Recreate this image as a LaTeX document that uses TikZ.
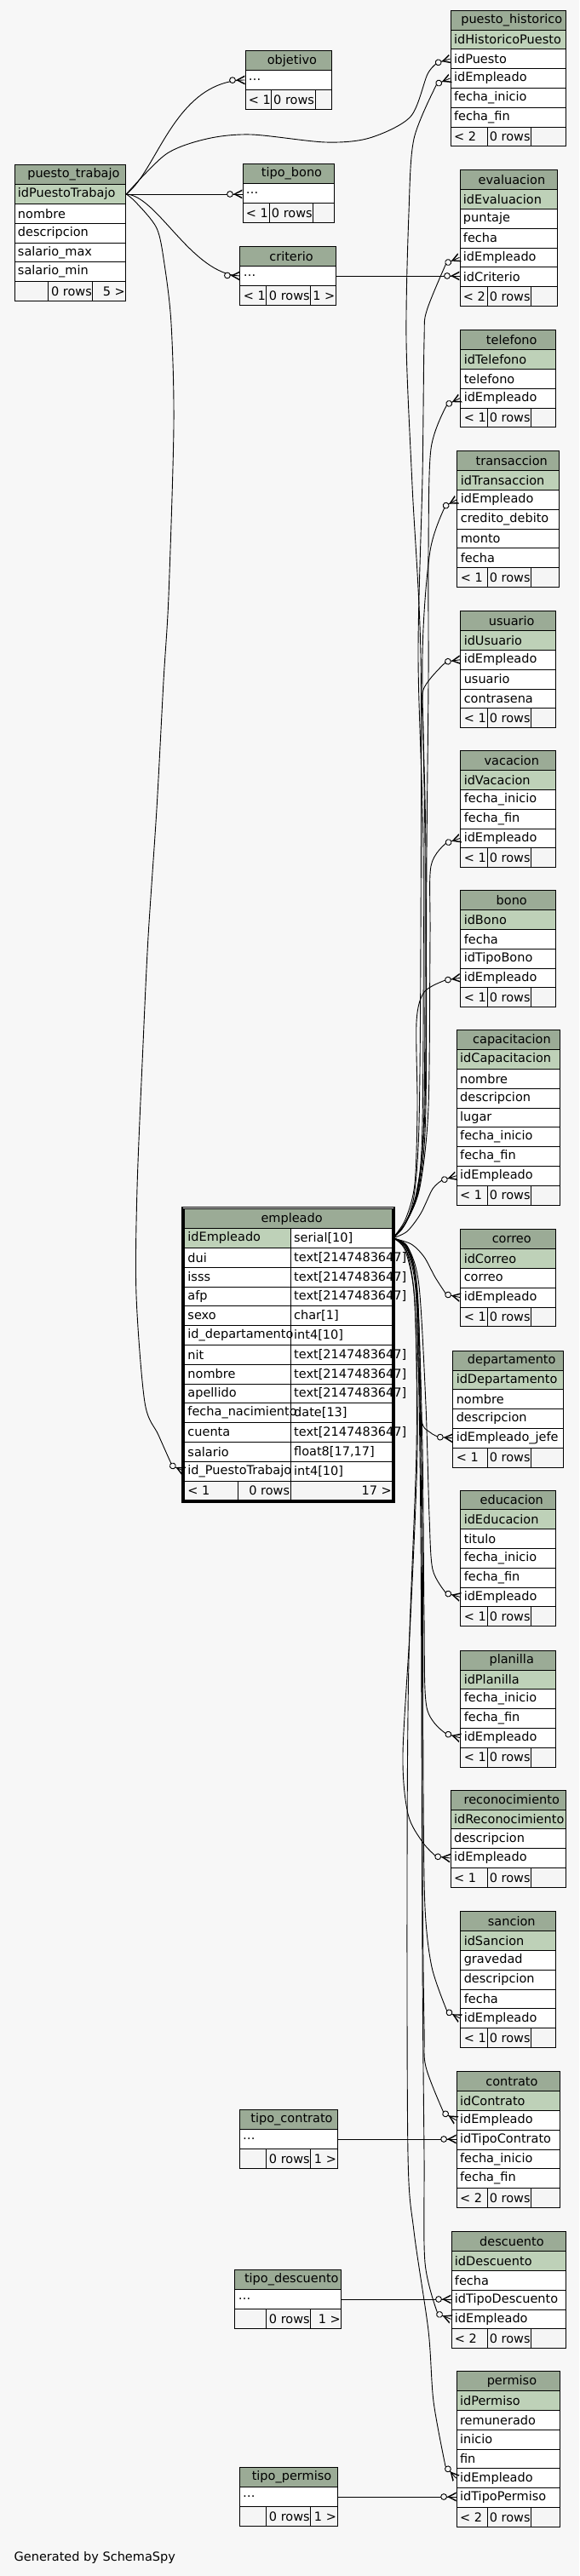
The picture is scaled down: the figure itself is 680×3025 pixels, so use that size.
\documentclass[tikz,border=0pt]{standalone}
\usepackage{fontspec}
\setmainfont{DejaVu Sans}
\usetikzlibrary{decorations.markings,fit}
\definecolor{bgc}{HTML}{F7F7F7}
\definecolor{hdrc}{HTML}{9BAB96}
\definecolor{pkc}{HTML}{BED1B8}
\definecolor{footc}{HTML}{F5F5F5}
\def\rh{22.8}
\newcommand\crowmark{%
  \draw[line width=0.9pt, fill=bgc] (-14.5pt,0pt) circle (3.4pt);
  \fill[black] (-10.5pt,0pt) -- (0pt,5.5pt) -- (0pt,3.8pt) -- (-7.5pt,0pt) -- (0pt,-3.8pt) -- (0pt,-5.5pt) -- cycle;
}
\newcommand\mktable[7]{%
  \pgfmathsetmacro\tw{#4-8}%
  \node[hdr, minimum width=#4pt] (#1-0) at (#2,#3) {\makebox[\tw pt][c]{\hspace{8pt}#5}};
  \foreach \f [count=\i] in {#7}{%
    \ifnum\i=1 \ifnum#6=1 \def\fc{pkc}\else\def\fc{white}\fi\else\def\fc{white}\fi
    \node[cell, fill=\fc, minimum width=#4pt] (#1-\i) at (#2,{#3+\i*\rh}) {\makebox[\tw pt][l]{\f}};
    \xdef\nrows{\i}%
  }%
  \pgfmathsetmacro\ftop{#3+(\nrows+1)*\rh}%
}
\newcommand\mkfoot[8]{%
  \pgfmathsetmacro\fA{#3-#2}\pgfmathsetmacro\fB{#4-#3}\pgfmathsetmacro\fC{#5-#4}%
  \pgfmathsetmacro\gA{\fA-8}\pgfmathsetmacro\gB{\fB-8}\pgfmathsetmacro\gC{\fC-8}%
  \node[foot, minimum width=\fA pt] (#1-f1) at (#2,\ftop) {\makebox[\gA pt][l]{#6}};
  \node[foot, minimum width=\fB pt] (#1-f2) at (#3,\ftop) {\makebox[\gB pt][r]{#7\hspace*{-3pt}}};
  \node[foot, minimum width=\fC pt] (#1-f3) at (#4,\ftop) {\makebox[\gC pt][r]{#8\hspace*{-3pt}}};
}
\begin{document}
\begin{tikzpicture}[x=1pt,y=-1pt, font=\fontsize{14.5}{17.4}\selectfont,
  cell/.style={draw=black, line width=0.9pt, anchor=north west, minimum height=\rh pt, inner xsep=4pt, inner ysep=0pt, text=black},
  hdr/.style={cell, fill=hdrc},
  foot/.style={cell, fill=footc},
  fk/.style={draw=black, line width=0.9pt, postaction={decorate, decoration={markings, mark=at position -0.01pt with {\crowmark}}}}]
\fill[bgc] (0,0) rectangle (680,3025);
\useasboundingbox (0,0) rectangle (680,3025);

% ---------- tables ----------
\mktable{ph}{528.6}{11.7}{135.4}{puesto\_historico}{1}{idHistoricoPuesto,idPuesto,idEmpleado,fecha\_inicio,fecha\_fin}
\mkfoot{ph}{528.6}{571.5}{623.2}{664}{< 2}{0 rows}{}
\mktable{obj}{287.5}{59.3}{101.9}{objetivo}{0}{\ldots}
\mkfoot{obj}{287.5}{317.9}{369.5}{389.4}{< 1}{0 rows}{}
\mktable{pt}{16.5}{193.3}{130.9}{puesto\_trabajo}{1}{idPuestoTrabajo,nombre,descripcion,salario\_max,salario\_min}
\mkfoot{pt}{16.5}{56.4}{108.4}{147.4}{}{0 rows}{5 >}
\mktable{tb}{284.5}{192.3}{107.1}{tipo\_bono}{0}{\ldots}
\mkfoot{tb}{284.5}{315.7}{367.3}{391.6}{< 1}{0 rows}{}
\mktable{cr}{281.4}{289.3}{112.4}{criterio}{0}{\ldots}
\mkfoot{cr}{281.4}{312.2}{364.3}{393.8}{< 1}{0 rows}{1 >}
\mktable{ev}{539.5}{199.3}{114}{evaluacion}{1}{idEvaluacion,puntaje,fecha,idEmpleado,idCriterio}
\mkfoot{ev}{539.5}{571.5}{623.2}{653.5}{< 2}{0 rows}{}
\mktable{tel}{540.3}{387.3}{112}{telefono}{1}{idTelefono,telefono,idEmpleado}
\mkfoot{tel}{540.3}{571.5}{623.2}{652.3}{< 1}{0 rows}{}
\mktable{tr}{536.4}{529.3}{119.7}{transaccion}{1}{idTransaccion,idEmpleado,credito\_debito,monto,fecha}
\mkfoot{tr}{536.4}{571.5}{623.2}{656.1}{< 1}{0 rows}{}
\mktable{us}{540.3}{717.3}{112}{usuario}{1}{idUsuario,idEmpleado,usuario,contrasena}
\mkfoot{us}{540.3}{571.5}{623.2}{652.3}{< 1}{0 rows}{}
\mktable{va}{540.3}{881.3}{112}{vacacion}{1}{idVacacion,fecha\_inicio,fecha\_fin,idEmpleado}
\mkfoot{va}{540.3}{571.5}{623.2}{652.3}{< 1}{0 rows}{}
\mktable{bo}{540.3}{1045.3}{112}{bono}{1}{idBono,fecha,idTipoBono,idEmpleado}
\mkfoot{bo}{540.3}{571.5}{623.2}{652.3}{< 1}{0 rows}{}
\mktable{ca}{535.7}{1209.3}{121.6}{capacitacion}{1}{idCapacitacion,nombre,descripcion,lugar,fecha\_inicio,fecha\_fin,idEmpleado}
\mkfoot{ca}{535.7}{571.5}{623.2}{657.3}{< 1}{0 rows}{}
\mktable{co}{540.3}{1443.3}{112}{correo}{1}{idCorreo,correo,idEmpleado}
\mkfoot{co}{540.3}{571.5}{623.2}{652.3}{< 1}{0 rows}{}
\mktable{de}{531.3}{1585.7}{130}{departamento}{1}{idDepartamento,nombre,descripcion,idEmpleado\_jefe}
\mkfoot{de}{531.3}{571.5}{623.2}{661.3}{< 1}{0 rows}{}
\mktable{ed}{540.3}{1749.5}{112}{educacion}{1}{idEducacion,titulo,fecha\_inicio,fecha\_fin,idEmpleado}
\mkfoot{ed}{540.3}{571.5}{623.2}{652.3}{< 1}{0 rows}{}
\mktable{pl}{540.3}{1937.7}{112}{planilla}{1}{idPlanilla,fecha\_inicio,fecha\_fin,idEmpleado}
\mkfoot{pl}{540.3}{571.5}{623.2}{652.3}{< 1}{0 rows}{}
\mktable{re}{528.6}{2101.7}{135.4}{reconocimiento}{1}{idReconocimiento,descripcion,idEmpleado}
\mkfoot{re}{528.6}{571.5}{623.2}{664}{< 1}{0 rows}{}
\mktable{sa}{540.3}{2244.3}{112}{sancion}{1}{idSancion,gravedad,descripcion,fecha,idEmpleado}
\mkfoot{sa}{540.3}{571.5}{623.2}{652.3}{< 1}{0 rows}{}
\mktable{ct}{535.6}{2432.3}{121.8}{contrato}{1}{idContrato,idEmpleado,idTipoContrato,fecha\_inicio,fecha\_fin}
\mkfoot{ct}{535.6}{571.5}{623.2}{657.4}{< 2}{0 rows}{}
\mktable{tc}{280.6}{2477.3}{114.9}{tipo\_contrato}{0}{\ldots}
\mkfoot{tc}{280.6}{312.2}{364.3}{395.5}{}{0 rows}{1 >}
\mktable{ds}{529.5}{2620.3}{134}{descuento}{1}{idDescuento,fecha,idTipoDescuento,idEmpleado}
\mkfoot{ds}{529.5}{571.5}{623.2}{663.5}{< 2}{0 rows}{}
\mktable{td}{275.4}{2665.3}{124.9}{tipo\_descuento}{0}{\ldots}
\mkfoot{td}{275.4}{312.2}{364.3}{400.3}{}{0 rows}{1 >}
\mktable{pe}{535.6}{2784.3}{121.8}{permiso}{1}{idPermiso,remunerado,inicio,fin,idEmpleado,idTipoPermiso}
\mkfoot{pe}{535.6}{571.5}{623.2}{657.4}{< 2}{0 rows}{}
\mktable{tp}{280.6}{2897.3}{114.9}{tipo\_permiso}{0}{\ldots}
\mkfoot{tp}{280.6}{312.2}{364.3}{395.5}{}{0 rows}{1 >}

% empleado
\node[hdr, minimum width=244.3pt] (emp-0) at (216,1419.3) {\makebox[236.3pt][c]{\hspace{8pt}empleado}};
\foreach \a/\b [count=\i] in {idEmpleado/serial[10], dui/text[2147483647], isss/text[2147483647], afp/text[2147483647], sexo/char[1], id\_departamento/int4[10], nit/text[2147483647], nombre/text[2147483647], apellido/text[2147483647], fecha\_nacimiento/date[13], cuenta/text[2147483647], salario/{float8[17,17]}, id\_PuestoTrabajo/int4[10]}{%
  \ifnum\i=1 \def\fc{pkc}\else\def\fc{white}\fi
  \node[cell, fill=white, minimum width=119.6pt] (emq-\i) at (340.7,{1419.3+\i*\rh}) {\makebox[111.6pt][l]{\b}};
  \node[cell, fill=\fc, minimum width=124.7pt] (emp-\i) at (216,{1419.3+\i*\rh}) {\makebox[116.7pt][l]{\a}};
}
\def\ftop{1738.5}
\mkfoot{emp}{216}{279.3}{340.7}{460.3}{< 1}{0 rows}{17 >}
\node[draw=black, line width=1.4pt, inner sep=1.9pt, fit=(emp-0)(emp-f1)(emp-f3)] (empframe) {};
\draw[line width=1.3pt] (emp-0.north west) rectangle (emp-f3.south east);

\node[anchor=west, inner sep=0pt] (gen) at (16.5,3003) {Generated by SchemaSpy};

% ---------- connectors from puesto_trabajo ----------
\draw[fk] (pt-1.east) -- (pt-1.east -| tb-1.west);
\draw[fk] (pt-1.east) .. controls (185,200) and (205,95) .. (obj-1.west);
\draw[fk] (pt-1.east) .. controls (185,230) and (225,322) .. (cr-1.west);
\draw[fk] plot[smooth] coordinates {(pt-1.east) (195,181) (243,163) (295,158) (382,167) (434,162) (482,137) (502,87) (514,73.5)} -- (ph-2.west);
\draw[fk] plot[smooth] coordinates {(pt-1.east) (160,238) (184,268) (193,310) (201,380) (204,500) (198,700) (192,800) (184,950) (174,1100) (168,1226) (161,1395) (160,1521) (170,1647) (186,1685) (202,1721)} -- (emp-13.west);

% ---------- straight connectors ----------
\draw[fk] (cr-1.east) -- (cr-1.east -| ev-5.west);
\draw[fk] (tc-1.east) -- (tc-1.east -| ct-3.west);
\draw[fk] (td-1.east) -- (td-1.east -| ds-3.west);
\draw[fk] (tp-1.east) -- (tp-1.east -| pe-6.west);

% ---------- connectors from empleado.idEmpleado ----------
\draw[fk] plot[smooth] coordinates {(emq-1.east) (474,1440) (486,1405) (492,1320) (494,1100) (494,770) (484,570) (477,400) (480,250) (486,163) (513,98.5)} -- (ph-3.west);
\draw[fk] plot[smooth] coordinates {(emq-1.east) (475,1438) (489,1400) (496,1320) (497,1000) (491,770) (496,560) (498,400) (501,365) (524,309)} -- (ev-4.west);
\draw[fk] plot[smooth] coordinates {(emq-1.east) (476,1437) (490,1398) (499,1300) (501,1000) (503,800) (503,647) (506,527) (525,475)} -- (tel-3.west);
\draw[fk] plot[smooth] coordinates {(emq-1.east) (476,1436) (491,1396) (498,1300) (499,1000) (496,770) (505,647) (523,594)} -- (tr-2.west);
\draw[fk] plot[smooth] coordinates {(emq-1.east) (477,1435) (492,1395) (500,1300) (500,1000) (497,860) (497,810) (524,777)} -- (us-2.west);
\draw[fk] plot[smooth] coordinates {(emq-1.east) (477,1434) (493,1394) (503,1300) (505,1100) (506,1017) (524,990)} -- (va-4.west);
\draw[fk] plot[smooth] coordinates {(emq-1.east) (476,1432) (487,1390) (490,1300) (489,1200) (498,1165) (523,1151)} -- (bo-4.west);
\draw[fk] plot[smooth] coordinates {(emq-1.east) (478,1446) (494,1425) (508,1396) (519,1386)} -- (ca-7.west);
\draw[fk] plot[smooth] coordinates {(emq-1.east) (483,1461) (498,1476) (511,1500) (524,1520)} -- (co-3.west);
\draw[fk] plot[smooth] coordinates {(emq-1.east) (478,1463) (488,1500) (491,1600) (495,1668) (505,1682) (515,1687.5)} -- (de-4.west);
\draw[fk] plot[smooth] coordinates {(emq-1.east) (479,1465) (492,1510) (500,1650) (504,1780) (508,1843) (524,1871)} -- (ed-5.west);
\draw[fk] plot[smooth] coordinates {(emq-1.east) (478,1466) (490,1520) (496,1700) (498,1900) (501,2005) (524,2036)} -- (pl-4.west);
\draw[fk] plot[smooth] coordinates {(emq-1.east) (477,1468) (487,1530) (490,1700) (482,1900) (473,2060) (479,2130) (496,2163) (512,2180)} -- (re-3.west);
\draw[fk] plot[smooth] coordinates {(emq-1.east) (479,1467) (491,1530) (496,1800) (497,2100) (499,2240) (507,2310) (525,2362)} -- (sa-5.west);
\draw[fk] plot[smooth] coordinates {(emq-1.east) (478,1467) (490,1530) (495,1800) (496,2200) (498,2380) (500,2427) (521,2481)} -- (ct-2.west);
\draw[fk] plot[smooth] coordinates {(emq-1.east) (477,1468) (489,1530) (494,1800) (496,2300) (498,2530) (499,2657) (514,2717)} -- (ds-4.west);
\draw[fk] plot[smooth] coordinates {(emq-1.east) (476,1469) (487,1530) (489,1700) (480,1950) (478,2200) (479,2530) (486,2620) (503,2737) (509,2820) (523,2896)} -- (pe-5.west);
\end{tikzpicture}
\end{document}
